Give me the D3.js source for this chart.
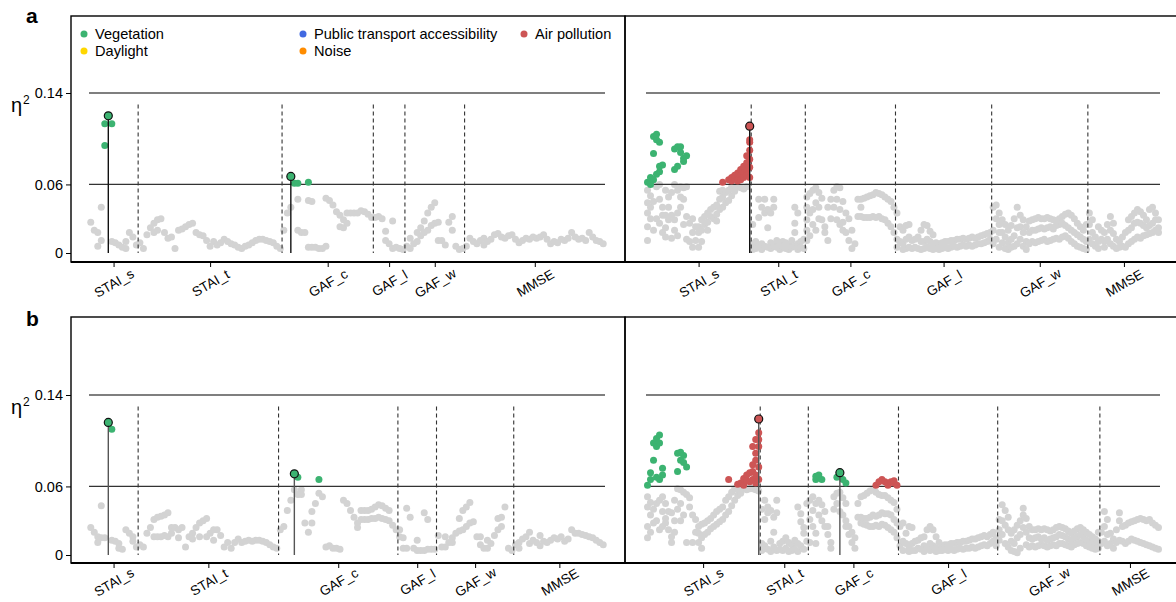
<!DOCTYPE html>
<html>
<head>
<meta charset="utf-8">
<style>
body { margin: 0; background: #fff; }
svg text { font-family: "Liberation Sans", Arial, sans-serif; }
</style>
</head>
<body>
<svg width="1176" height="602" id="svgMain"></svg>
<script src="https://cdnjs.cloudflare.com/ajax/libs/d3/7.8.5/d3.min.js"></script>
<script>
//------------------------------------------------------------
//  DATA  (eta squared per test, grouped by outcome block)
//  each block = list of test positions, each position = list of values
//------------------------------------------------------------
var outcomes = ["STAI_s", "STAI_t", "GAF_c", "GAF_l", "GAF_w", "MMSE"];
var yTicks = [0, 0.06, 0.14];
var refLines = [0.06, 0.14];
var legendItems = [["Vegetation", "veg"], ["Daylight", "day"], ["Public transport accessibility", "pta"], ["Noise", "noise"], ["Air pollution", "air"]];

// panel a, left
var grayAL = [
  [[.027],[.020],[.018,.006],[.040,.011],[],[],[.010],[.009],[.007],[.005],[.010,.004],[.018],[.014],[.007]],
  [[.009],[.004],[.016],[.022],[.026,.018],[.029,.020],[.030],[.018],[.013],[.014],[.004],[.020],[.021],[.023],[.025],[.026],[.018],[.016],[.015],[.011],[.006],[.010],[.007],[.009],[.012],[.010],[.008],[.007],[.005],[.004],[.006],[.007],[.009],[.011],[.012],[.012],[.011],[.010],[.009],[.006],[.004]],
  [[.020],[.035],[.040],[],[.047,.020],[.018],[.018],[.046,.005],[.045,.005],[.005],[.004],[.004],[.006,.048],[.046],[.042],[.036],[.033,.023],[.029,.022],[.035,.026],[.035],[.035],[.035],[.037],[.036],[.034],[.031]],
  [[.031],[.032],[.030],[.019,.011],[.008],[.028,.004],[.005],[.004],[.003]],
  [[.006],[.013,.004],[.008],[.018,.010],[.022,.015],[.028,.018],[.035,.020],[.040,.024],[.044,.026],[.027,.011],[.011],[.007],[.027],[.032,.020],[.006],[.003],[.004]],
  [[.006],[.013],[.010],[.008],[.011],[.013,.007],[.010],[.012],[.016],[.017],[.014],[.013],[.015],[.016],[.012],[.009],[.011],[.013],[.012],[.014],[.013],[.014],[.016],[.012],[.008],[.010],[.009],[.012],[.011],[.013],[.018],[.014],[.012],[.013],[.011],[.018],[.014],[.011],[.010],[.008]]
];
var greenAL = [[0,4,.113],[0,4,.094],[0,6,.113],[2,3,.061],[2,4,.061],[2,7,.062]];
var redAL = [];
var topAL = [[0,5,.120,"veg"],[2,2,.067,"veg"]];

// panel a, right
var grayAR = [
  [[.055,.044,.035,.023,.011],[.050,.040,.030],[.045,.020],[.058,.030],[.060,.047,.026],[.040,.033,.018],[.055,.033,.022,.014],[.049,.040,.029],[.053,.033,.013],[.060,.029,.020],[.055,.035,.015],[.058,.049,.040],[.057,.047,.025],[.058,.032,.012],[.026,.010],[.030,.018,.005],[.023,.011],[.023,.018,.005],[.029,.020,.010],[.032,.025],[.035,.027,.020],[.038,.032],[.040,.030],[.042,.034,.028],[.054,.047,.038],[.055,.049,.040],[.053,.044],[.055,.046],[.058,.050],[.059,.054],[.058],[.057],[.056],[.058],[]],
  [[.025,.008,.003],[.010,.004],[.047,.031,.006],[.040,.008,.003],[.047,.035,.006],[.038,.022,.005],[.035,.009,.004],[.047,.040,.007],[.011,.005],[.008,.003],[.010,.006],[.009,.004],[.007,.003],[.011,.005],[.040,.026,.018,.006],[.035,.008,.003],[.010,.005],[.012,.004]],
  [[.049,.040,.029,.020,.011],[.052,.035,.015],[.055,.038,.025],[.057,.044,.020],[.053,.040,.030],[.048,.029],[.023,.018],[.040,.011],[.047,.030],[.055,.040],[.058,.047,.029],[.057,.038,.025],[.045,.027,.020],[.035,.018],[.030,.011],[.020,.004],[.008],[.047,.032],[.047,.040,.032],[.048,.031],[.049,.031],[.050,.031],[.051,.032],[.053,.031],[.052,.032],[.051,.030],[.049,.029],[.047,.026],[.045,.023],[.040,.018]],
  [[.035,.012,.005],[.023,.010],[.020,.008,.003],[.024,.012,.004],[.025,.014,.005],[.011,.004],[.012,.005],[.014,.004],[.020,.010,.003],[.025,.010,.004],[.024,.012,.005],[.019,.010,.004],[.016,.008,.003],[.009,.004],[.008,.003],[.009,.004],[.010,.005],[.010,.004],[.011,.005],[.011,.006],[.012,.005],[.012,.006],[.013,.007],[.012,.006],[.013,.007],[.014,.006],[.013,.007],[.014,.008],[.015,.008],[.016,.009],[.017,.010],[.018,.012]],
  [[.040,.020,.008],[.042,.030,.012],[.035,.025,.018,.005],[.029,.018,.009],[.025,.014,.004],[.020,.009,.003],[.024,.012,.005],[.030,.015,.006],[.040,.022,.008],[.033,.023,.012],[.029,.018,.006],[.023,.010,.003],[.028,.018,.008],[.029,.020,.010],[.030,.020,.009],[.031,.021,.010],[.030,.022,.011],[.030,.021,.012],[.031,.022,.010],[.030,.023,.011],[.029,.021,.012],[.028,.024,.013],[.030,.025,.012],[.032,.026,.014],[.034,.024,.015],[.035,.022,.013],[.033,.020,.010],[.030,.018,.008],[.026,.016,.006],[.023,.014,.005],[.020,.012,.004],[.025,.010,.003]],
  [[.035,.025,.012],[.029,.018,.008],[.014,.006],[.023,.010,.004],[.020,.012],[.018,.010,.005],[.025,.012],[.032,.020,.008],[.026,.017,.006],[.012,.004],[.010,.005],[.014,.006],[.018,.005],[.029,.020,.008],[.032,.022,.010],[.035,.026,.012],[.038,.027,.014],[.036,.026,.013],[.033,.024,.015],[.029,.022,.016],[.038,.024,.017],[.040,.026,.018],[.035,.029,.020],[.029,.022,.018]]
];
var greenAR = [[0,0,.062],[0,1,.066],[0,1,.060],[0,2,.064],[0,2,.087],[0,2,.102],[0,3,.099],[0,3,.104],[0,3,.069],[0,4,.097],[0,4,.071],[0,4,.076],[0,5,.077],[0,9,.091],[0,9,.073],[0,10,.093],[0,10,.076],[0,11,.093],[0,11,.088],[0,12,.083],[0,12,.080],[0,13,.085]];
var redAR = [[0,25,.062],[0,27,.064],[0,28,.063],[0,28,.066],[0,29,.065],[0,29,.068],[0,30,.066],[0,30,.070],[0,30,.063],[0,31,.068],[0,31,.073],[0,31,.064],[0,32,.070],[0,32,.076],[0,32,.066],[0,33,.079],[0,33,.085],[0,33,.072],[0,33,.068],[0,34,.099],[0,34,.097],[0,34,.090],[0,34,.082],[0,34,.075],[0,34,.066]];
var topAR = [[0,34,.111,"air"]];

// panel b, left
var grayBL = [
  [[.024],[.020],[.011,.016],[.043,.015],[.015],[],[.013],[.012],[.006,.010],[.005],[.022],[.019],[.016,.012],[.007]],
  [[.009],[.007],[.019],[.024],[.031,.016],[.033,.016],[.034,.016],[.035,.017],[.037,.016],[.019,.024],[.024],[.022,.015],[.024],[.007],[.016],[.019,.014],[.024],[.028,.016],[.030],[.032,.016],[.019],[.022,.013],[.022],[.017],[.007],[.011],[.006],[.011],[.014],[.011],[.012],[.013],[.012],[.013],[.013],[.012],[.011],[.009],[.007],[.006]],
  [[.022],[.025],[.039],[.048],[.057],[.053],[.057,.053],[.028],[.020],[.028,.038],[.045],[.054],[.051],[.007],[.008],[.006],[.006],[.005],[.048],[.045],[.039],[.033],[.028,.024],[.039,.031],[.039,.031],[.039,.031],[.040,.032],[.042,.032],[.044,.033],[.043,.032],[.041,.031],[.039,.030],[.026],[.022]],
  [[.022,.016],[.006,.015],[.041,.006],[.033],[.006],[.013,.004],[.004],[.037,.004],[.031,.005],[.005],[.005]],
  [[.017],[.007],[.016,.007],[.011],[.015,.011],[.019],[.032,.021],[.039,.022],[.042,.025],[.046,.028],[.029],[.016],[.009,.016],[.006],[.013,.006],[.010],[.017],[.022,.032],[.033,.025],[.042],[.006],[.004]],
  [[.009],[.011,.006],[.014],[.016],[.020,.010],[.013],[.011],[.017,.008],[.012],[.011],[.013],[.015],[.014],[.016],[.012],[.014],[.022],[.019],[.019],[.018],[.017],[.016],[.015],[.013],[.011],[.009]]
];
var greenBL = [[0,6,.110],[2,5,.068],[2,11,.066]];
var redBL = [];
var topBL = [[0,5,.116,"veg"],[2,4,.071,"veg"]];

// panel b, right
var grayBR = [
  [[.051,.042,.025,.015],[.046,.035,.020],[.040,.028],[.045,.030],[.048,.022],[.051,.038,.025],[.045,.032,.028],[.038,.022],[.037,.016,.011],[.048,.030,.020],[.058,.040],[.057,.045,.030],[.055,.035],[.053,.011],[.050,.042],[.035,.011],[.031,.020],[.025,.019,.011],[.027,.015,.006],[.028,.018],[.030,.020],[.032,.023],[.035,.025],[.038,.027],[.040,.029],[.042,.031],[.048,.035],[.051,.038],[.055,.043],[.058,.048],[.057,.052],[.058,.054],[.058],[.057],[.058],[.058],[.057],[.056]],
  [[.040,.010,.004],[.048,.031,.008],[.037,.042,.005],[.039,.012,.003],[.033,.020,.007],[.048,.037,.004],[.010,.005],[.012,.004],[.015,.006],[.011,.003],[.009,.004],[.013,.005],[.042,.010,.003],[.036,.029,.008],[.024,.019,.005],[.045,.012]],
  [[.048,.031,.011],[.051,.039,.025],[.045,.019,.010],[.048,.035],[.044,.030],[.038,.025],[.025,.018],[.011,.006],[.051,.040],[.054,.045],[.055,.038],[.050,.035],[.045,.030,.025],[.025,.018],[.011,.020],[.006,.015],[.045,.033],[.051,.033,.028],[.052,.032,.027],[.054,.032,.026],[.056,.033,.025],[.057,.035,.025],[.055,.034,.026],[.053,.035,.025],[.052,.037,.027],[.052,.036,.026],[.050,.036,.024],[.048,.035,.022],[.046,.031,.020],[.040,.028,.015]],
  [[.025,.008],[.028,.012,.004],[.019,.010],[.025,.007,.003],[.024,.010,.004],[.012,.004],[.013,.006],[.015,.005],[.016,.008,.003],[.022,.007],[.025,.010,.004],[.022,.008],[.016,.006,.003],[.011,.004],[.008,.004],[.009,.005],[.009,.004],[.010,.005],[.010,.004],[.011,.005],[.011,.006],[.012,.005],[.012,.006],[.013,.006],[.014,.007],[.014,.006],[.015,.007],[.016,.008],[.017,.009],[.016,.008],[.018,.010],[.020,.012],[.015,.008]],
  [[.031,.022,.013],[.044,.030,.018],[.039,.026,.010],[.033,.022,.007],[.019,.012,.004],[.022,.010,.003],[.026,.015,.002],[.030,.018,.006],[.041,.035,.024],[.032,.020,.009],[.025,.015,.007],[.022,.014,.008],[.022,.015,.007],[.023,.016,.008],[.022,.014,.009],[.023,.015,.008],[.022,.013,.007],[.021,.014,.008],[.022,.015,.009],[.024,.016,.008],[.025,.018,.010],[.024,.017,.010],[.023,.016,.009],[.021,.014,.008],[.019,.013,.007],[.021,.015,.009],[.023,.016,.010],[.024,.018,.011],[.022,.016,.010],[.020,.013,.008],[.018,.012,.007],[.016,.010,.006],[.014,.009,.005],[.020,.012,.006]],
  [[.020,.010],[.038,.025,.012],[.031,.018,.008],[.019,.010],[.014,.006],[.022,.011],[.037,.030,.013],[.025,.012],[.026,.010],[.028,.012],[.029,.014],[.030,.013],[.031,.012],[.032,.011],[.031,.010],[.030,.009],[.031,.008],[.028,.007],[.026,.006],[.024,.005]]
];
var greenBR = [[0,0,.061],[0,1,.072],[0,1,.066],[0,2,.098],[0,2,.083],[0,3,.102],[0,3,.095],[0,3,.068],[0,4,.105],[0,4,.098],[0,4,.066],[0,5,.076],[0,5,.070],[0,10,.089],[0,10,.073],[0,11,.090],[0,11,.083],[0,12,.081],[0,12,.087],[0,13,.077],[2,2,.066],[2,2,.069],[2,3,.070],[2,4,.066],[2,9,.068],[2,11,.066],[2,12,.063]];
var redBR = [[0,27,.066],[0,30,.062],[0,31,.063],[0,32,.061],[0,32,.067],[0,33,.070],[0,33,.065],[0,34,.072],[0,34,.064],[0,35,.073],[0,35,.079],[0,35,.066],[0,35,.095],[0,36,.083],[0,36,.101],[0,36,.063],[0,36,.070],[0,36,.089],[0,37,.107],[0,37,.077],[0,37,.066],[0,37,.095],[0,37,.101],[2,22,.061],[2,23,.064],[2,24,.066],[2,25,.064],[2,26,.063],[2,26,.061],[2,27,.064],[2,28,.063],[2,28,.065],[2,29,.061]];
var topBR = [[0,37,.119,"air"],[2,10,.072,"veg"]];

//------------------------------------------------------------
//  STYLE / LAYOUT
//------------------------------------------------------------
var colors = {veg: "#3cb371", day: "#ffd700", pta: "#4169e1", noise: "#ff8c00", air: "#cd5555", ns: "#d3d3d3"};

var rows = [
  {label: "a", top: 16, bottom: 262, y0: 253, y14: 93, stem: "#111", labelShift: 21},
  {label: "b", top: 317, bottom: 563, y0: 555, y14: 395, stem: "#555", labelShift: 19}
];

var panels = [
  {row: 0, left: 89, right: 605, gray: grayAL, green: greenAL, red: redAL, top: topAL, yaxis: true},
  {row: 0, left: 646, right: 1160, gray: grayAR, green: greenAR, red: redAR, top: topAR},
  {row: 1, left: 89, right: 605, gray: grayBL, green: greenBL, red: redBL, top: topBL, yaxis: true},
  {row: 1, left: 646, right: 1160, gray: grayBR, green: greenBR, red: redBR, top: topBR}
];

var svg = d3.select("svg");

//------------------------------------------------------------
//  FRAMES + ROW LABELS
//------------------------------------------------------------
rows.forEach(function(r) {
  svg.append("rect").attr("x", 71).attr("y", r.top).attr("width", 554).attr("height", r.bottom - r.top)
      .attr("fill", "none").attr("stroke", "#000").attr("stroke-width", 1.4);
  svg.append("rect").attr("x", 625).attr("y", r.top).attr("width", 560).attr("height", r.bottom - r.top)
      .attr("fill", "none").attr("stroke", "#000").attr("stroke-width", 1.4);
  svg.append("line").attr("x1", 71).attr("x2", 1176).attr("y1", r.bottom).attr("y2", r.bottom)
      .attr("stroke", "#000").attr("stroke-width", 2);
  svg.append("text").attr("x", 26).attr("y", r.top + (r.label == "a" ? 7 : 9))
      .style("font-size", "21px").style("font-weight", "bold").text(r.label);
  // eta squared
  svg.append("text").attr("x", 11).attr("y", r.y14 + 19).style("font-size", "20px").text("η");
  svg.append("text").attr("x", 23).attr("y", r.y14 + 11).style("font-size", "12px").text("2");
});

//------------------------------------------------------------
//  PANELS
//------------------------------------------------------------
panels.forEach(function(p) {
  var r = rows[p.row];
  var g = svg.append("g");

  var starts = [], total = 0;
  p.gray.forEach(function(b) { starts.push(total); total += b.length; });

  var x = d3.scaleLinear().domain([0, total]).range([p.left, p.right]);
  var y = d3.scaleLinear().domain([0, 0.14]).range([r.y0, r.y14]);
  var pos = function(b, i) { return x(starts[b] + i + 0.5); };

  // gray (non significant) points
  var pts = [];
  p.gray.forEach(function(block, b) {
    block.forEach(function(vals, i) {
      vals.forEach(function(v) { pts.push({b: b, i: i, v: v}); });
    });
  });
  g.selectAll(".ns").data(pts).enter().append("circle")
      .attr("cx", function(d) { return pos(d.b, d.i); })
      .attr("cy", function(d) { return y(d.v); })
      .attr("r", 3.5).attr("fill", colors.ns);

  // reference lines
  g.selectAll(".ref").data(refLines).enter().append("line")
      .attr("x1", x(0)).attr("x2", x(total))
      .attr("y1", function(d) { return y(d); }).attr("y2", function(d) { return y(d); })
      .attr("stroke", function(d) { return d == 0.14 ? "#555" : "#333"; })
      .attr("stroke-width", 1.3);

  // block separators
  g.selectAll(".sep").data(starts.slice(1)).enter().append("line")
      .attr("x1", function(d) { return x(d); }).attr("x2", function(d) { return x(d); })
      .attr("y1", y(0.13)).attr("y2", y(0))
      .attr("stroke", "#333").attr("stroke-width", 1.1).attr("stroke-dasharray", "4,3");

  // significant points
  var sig = p.green.map(function(d) { return {b: d[0], i: d[1], v: d[2], c: "veg"}; })
      .concat(p.red.map(function(d) { return {b: d[0], i: d[1], v: d[2], c: "air"}; }));
  g.selectAll(".sig").data(sig).enter().append("circle")
      .attr("cx", function(d) { return pos(d.b, d.i); })
      .attr("cy", function(d) { return y(d.v); })
      .attr("r", 3.5).attr("fill", function(d) { return colors[d.c]; });

  // best result per block: stem + outlined point
  g.selectAll(".stem").data(p.top).enter().append("line")
      .attr("x1", function(d) { return pos(d[0], d[1]); }).attr("x2", function(d) { return pos(d[0], d[1]); })
      .attr("y1", function(d) { return y(d[2]); }).attr("y2", y(0))
      .attr("stroke", r.stem).attr("stroke-width", 1.4);
  g.selectAll(".best").data(p.top).enter().append("circle")
      .attr("cx", function(d) { return pos(d[0], d[1]); })
      .attr("cy", function(d) { return y(d[2]); })
      .attr("r", 4).attr("fill", function(d) { return colors[d[3]]; })
      .attr("stroke", "#111").attr("stroke-width", 1.2);

  // x axis
  var mids = starts.map(function(s, b) { return s + p.gray[b].length / 2; });
  var ax = g.append("g").attr("transform", "translate(0," + r.bottom + ")")
      .call(d3.axisBottom(x).tickValues(mids).tickSize(5).tickFormat(function(d, i) { return outcomes[i]; }));
  ax.select(".domain").remove();
  ax.selectAll(".tick line").attr("stroke", "#000");
  ax.selectAll(".tick text")
      .attr("y", 0).attr("dy", "0.35em")
      .attr("transform", "translate(0," + r.labelShift + ") rotate(-30)")
      .attr("text-anchor", "middle")
      .style("font-size", "13.5px").style("font-family", '"Liberation Sans", Arial, sans-serif').attr("fill", "#000");

  // y axis
  if (p.yaxis) {
    var ay = svg.append("g").attr("transform", "translate(71,0)")
        .call(d3.axisLeft(y).tickValues(yTicks).tickSize(5).tickFormat(function(d) { return d == 0 ? "0" : d3.format(".2f")(d); }));
    ay.select(".domain").remove();
    ay.selectAll(".tick line").attr("stroke", "#000");
    ay.selectAll(".tick text").style("font-size", "14.5px")
        .style("font-family", '"Liberation Sans", Arial, sans-serif').attr("fill", "#000");
  }
});

//------------------------------------------------------------
//  LEGEND
//------------------------------------------------------------
var legX = [84, 84, 303, 303, 524], legY = [34, 51, 34, 51, 34];
var leg = svg.selectAll(".leg").data(legendItems).enter().append("g")
    .attr("transform", function(d, i) { return "translate(" + legX[i] + "," + legY[i] + ")"; });
leg.append("circle").attr("r", 3.5).attr("fill", function(d) { return colors[d[1]]; });
leg.append("text").attr("x", 11).attr("y", 5).style("font-size", "14.6px").text(function(d) { return d[0]; });
</script>
</body>
</html>
